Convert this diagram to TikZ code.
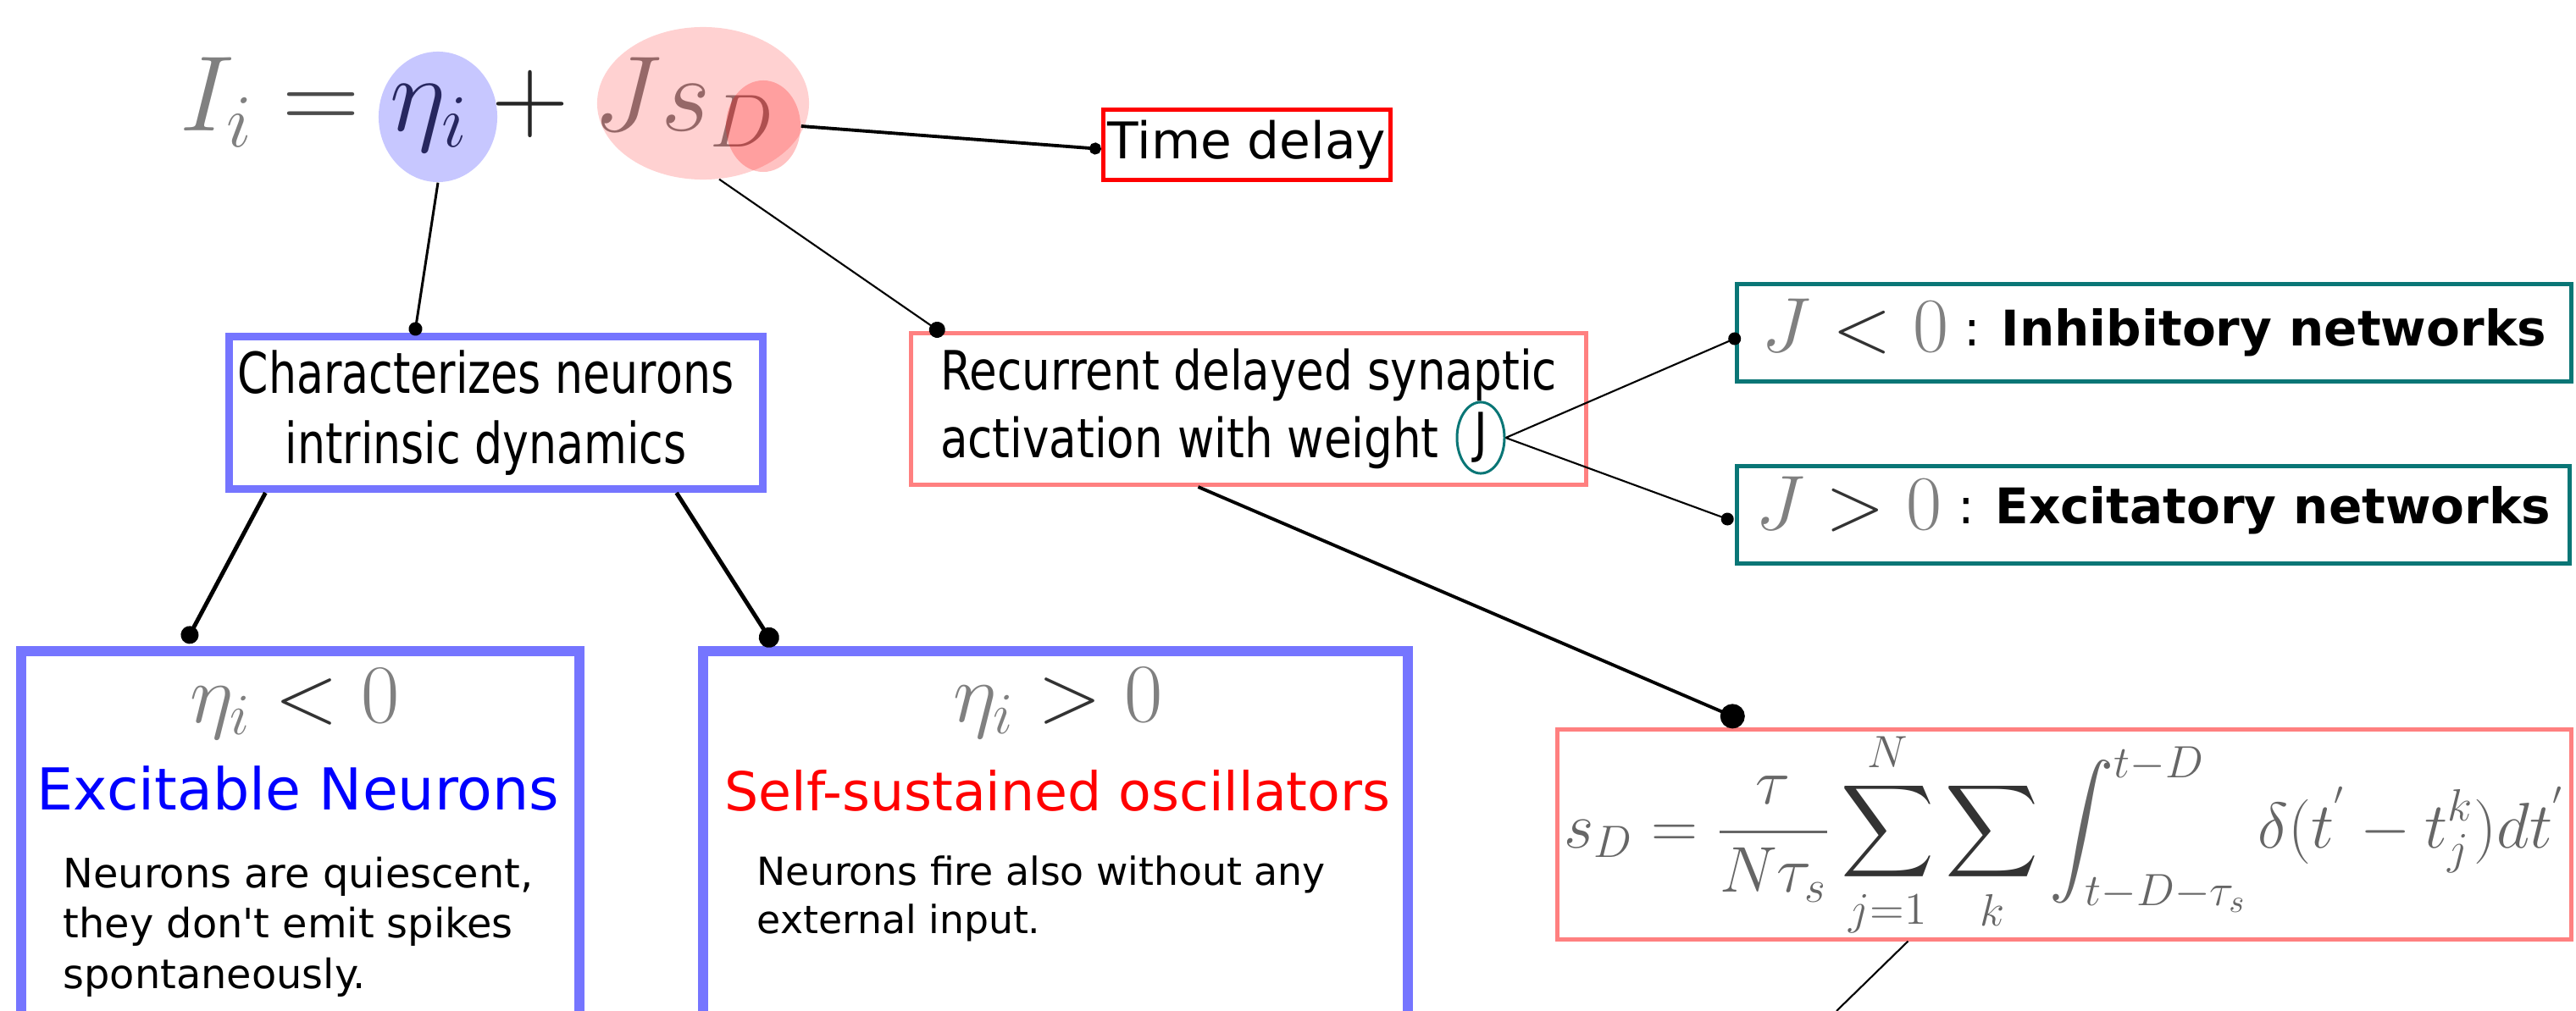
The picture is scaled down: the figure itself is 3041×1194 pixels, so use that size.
\RequirePackage{fix-cm}
\documentclass[tikz,border=0pt]{standalone}
\usepackage[no-math]{fontspec}
\usepackage{tikz}
\usetikzlibrary{shapes.geometric, arrows.meta, positioning, calc}
\DeclareFontShape{OMX}{cmex}{m}{n}{<-> cmex10}{}
\newfontfamily\dejavu{DejaVu Sans}
\newfontfamily\narrowA{DejaVu Sans}[FakeStretch=0.78]
\newfontfamily\narrowB{DejaVu Sans}[FakeStretch=0.83]
\definecolor{ovalblue}{RGB}{117,117,255}
\definecolor{salmonred}{RGB}{255,128,128}
\definecolor{tealnet}{RGB}{10,118,118}

\begin{document}
\begin{tikzpicture}[x=0.01cm, y=-0.01cm,
        % Styles
        framebox/.style={rectangle, draw=#1, fill=white, inner sep=0pt, align=center},
        bluebox/.style={framebox=ovalblue, line width=2.55pt},
        bigblue/.style={framebox=ovalblue, line width=3.4pt},
        pinkbox/.style={framebox=salmonred, line width=1.42pt},
        redbox/.style={framebox=red, line width=1.42pt},
        tealbox/.style={framebox=tealnet, line width=1.42pt},
        tealring/.style={ellipse, draw=tealnet, line width=0.85pt, inner sep=0pt,
                         minimum width=0.56cm, minimum height=0.76cm},
        highlight/.style={ellipse, draw=none, inner sep=0pt, fill=#1},
        wire/.style={line width=#1, draw=black},
        blob/.style={-{Circle[length=#1, width=#1]}, shorten >=-0.5*#1},
    ]
    \useasboundingbox (0,0) rectangle (3041,1194);
    \clip (0,0) rectangle (3041,1194);

    % Equation on top
    \node[anchor=base west, inner sep=0pt, font=\fontsize{36}{40}\selectfont] (eq) at (212,155)
        {$\textcolor{black!50}{I_i}\mathrel{\textcolor{black!70}{=}}\textcolor{black!80}{\eta_i}
          \mathbin{\textcolor{black!85}{+}}\textcolor{black!50}{J s_D}$};
    \node[highlight=blue, fill opacity=0.22, minimum width=1.4cm, minimum height=1.54cm] (etaell) at (517,138) {};
    \node[highlight=red, fill opacity=0.18, minimum width=2.5cm, minimum height=1.8cm] (jsell) at (830,122) {};
    \node[highlight=red, fill opacity=0.24, minimum width=0.88cm, minimum height=1.08cm] (dell) at (901,149) {};

    % Boxes
    \node[redbox, minimum width=3.39cm, minimum height=0.83cm, text height=0.46cm, text depth=0.14cm,
          font=\dejavu\fontsize{17}{20}\selectfont] (delay) at (1472,171) {Time delay};
    \node[bluebox, minimum width=6.3cm, minimum height=1.8cm,
          font=\narrowA\fontsize{19}{23.6}\selectfont] (chr) at (585.5,487.5)
          {Characterizes neurons\hspace*{0.24cm}\\intrinsic dynamics\hspace*{0.24cm}};
    \node[pinkbox, minimum width=7.97cm, minimum height=1.79cm, align=left,
          font=\narrowB\fontsize{18.2}{22.7}\selectfont] (rec) at (1474,483) {Recurrent delayed synaptic\\activation with weight};
    \node[tealring, font=\narrowB\fontsize{18.2}{22.7}\selectfont] (jw) at (1748,517) {J};

    \node[tealbox, minimum width=9.85cm, minimum height=1.15cm, text height=0.6cm, text depth=0.16cm] (inh) at (2543,393)
        {\fontsize{26}{30}\selectfont$\textcolor{black!50}{J}\mathrel{\textcolor{black!80}{<}}\textcolor{black!50}{0}$\dejavu\fontsize{16.5}{20}\selectfont{} \raisebox{0.07cm}{: \textbf{Inhibitory networks}}};
    \node[tealbox, minimum width=9.83cm, minimum height=1.15cm, text height=0.55cm, text depth=0.21cm] (exh) at (2542,608)
        {\fontsize{26}{30}\selectfont$\textcolor{black!50}{J}\mathrel{\textcolor{black!80}{>}}\textcolor{black!50}{0}$\dejavu\fontsize{16.5}{20}\selectfont{} \raisebox{0.07cm}{: \textbf{Excitatory networks}}};

    \node[pinkbox, minimum width=11.97cm, minimum height=2.4cm, font=\fontsize{21.7}{26}\selectfont, text=black!60] (sd) at (2437,985.5)
        {$\displaystyle s_D=\frac{\tau}{N\tau_s}\mathop{\textcolor{black!80}{\sum}}\limits_{j=1}^{N}\mathop{\textcolor{black!80}{\sum}}\limits_{k}
          \int_{t-D-\tau_s}^{t-D}\delta(t^{'}-t_j^k)dt^{'}$};
    \coordinate (offpage) at (2168,1194);

    % Regimes (cut by the lower edge)
    \node[bigblue, minimum width=6.59cm, minimum height=5.31cm] (exc) at (354.5,1034.5) {};
    \node[bigblue, minimum width=8.32cm, minimum height=5.31cm] (self) at (1246,1034.5) {};

    \node[anchor=base, inner sep=0pt, font=\fontsize{28}{32}\selectfont] (exccond) at (348,853)
        {$\textcolor{black!50}{\eta_i}\mathrel{\textcolor{black!80}{<}}\textcolor{black!50}{0}$};
    \node[anchor=base, inner sep=0pt, text=blue, font=\dejavu\fontsize{19.4}{23}\selectfont] (exctitle) at (352,956) {Excitable Neurons};
    \node[anchor=base west, inner sep=0pt, align=left, font=\dejavu\fontsize{13.6}{16.9}\selectfont] (excdesc) at (74,1167)
        {Neurons are quiescent,\\they don\textquotesingle t emit spikes\\spontaneously.};

    \node[anchor=base, inner sep=0pt, font=\fontsize{28}{32}\selectfont] (selcond) at (1249,852)
        {$\textcolor{black!50}{\eta_i}\mathrel{\textcolor{black!80}{>}}\textcolor{black!50}{0}$};
    \node[anchor=base, inner sep=0pt, text=red, font=\dejavu\fontsize{18}{22}\selectfont] (seltitle) at (1248.5,957) {Self-sustained oscillators};
    \node[anchor=base west, inner sep=0pt, align=left, font=\dejavu\fontsize{13}{16.2}\selectfont] (seldesc) at (893,1102)
        {Neurons fire also without any\\external input.};

    % Connectors
    \draw[wire=1.1pt, -{Circle[length=0.14cm]}] (dell.east) -- ([yshift=-0.05cm]delay.west);
    \draw[wire=0.85pt, blob=0.16cm] (etaell.south) -- ([xshift=2.245cm, yshift=0.045cm]chr.north west);
    \draw[wire=0.6pt, blob=0.19cm] (jsell.-78) -- ([xshift=0.335cm, yshift=0.015cm]rec.north west);
    \draw[wire=1.4pt, blob=0.21cm] ([xshift=0.475cm]chr.south west) -- ([xshift=2.05cm, yshift=0.13cm]exc.north west);
    \draw[wire=1.4pt, blob=0.24cm] ([xshift=5.325cm]chr.south west) -- ([xshift=0.84cm, yshift=0.1cm]self.north west);
    \draw[wire=1.1pt, blob=0.29cm] ([xshift=3.415cm]rec.south west) -- ([xshift=2.095cm, yshift=0.135cm]sd.north west);
    \draw[wire=0.6pt, blob=0.15cm] (jw.east) -- ([yshift=-0.07cm]inh.west);
    \draw[wire=0.6pt, blob=0.15cm] (jw.east) -- ([xshift=-0.085cm, yshift=-0.05cm]exh.west);
    \draw[wire=0.6pt] ([xshift=4.165cm]sd.south west) -- (offpage);

\end{tikzpicture}
\end{document}
